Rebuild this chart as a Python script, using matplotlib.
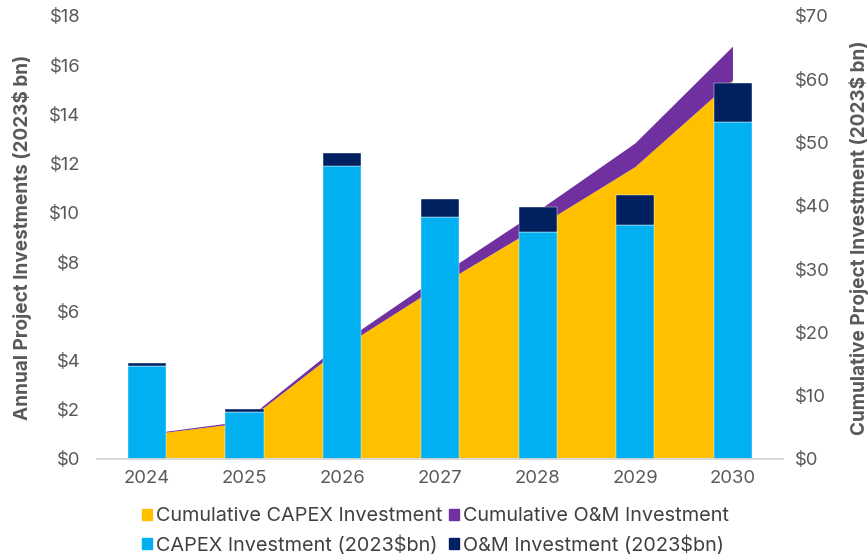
import matplotlib.pyplot as plt
from matplotlib.patches import Patch

plt.rcParams['font.family'] = ['Inter', 'DejaVu Sans']

# Data (2023$ bn)
years = ['2024', '2025', '2026', '2027', '2028', '2029', '2030']
capex = [3.79, 1.89, 11.92, 9.81, 9.24, 9.49, 13.67]
om = [0.11, 0.14, 0.49, 0.76, 0.99, 1.24, 1.60]
cum_capex = [3.79, 5.68, 17.6, 27.4, 36.6, 46.1, 59.8]
cum_om = [0.11, 0.25, 0.74, 1.50, 2.49, 3.73, 5.33]

c_capex = '#00B0F0'
c_om = '#002060'
c_cum_capex = '#FFC000'
c_cum_om = '#7030A0'
grey = '#595959'

fig = plt.figure(figsize=(8.68, 5.56), dpi=100)
ax = fig.add_axes([0.1118, 0.1745, 0.790, 0.797])
ax2 = ax.twinx()

x = list(range(len(years)))

# cumulative areas on the right axis
ax2.stackplot(x, cum_capex, cum_om, colors=[c_cum_capex, c_cum_om], linewidth=0)

# annual bars on the left axis, drawn over the areas
ax.set_zorder(ax2.get_zorder() + 1)
ax.patch.set_visible(False)
ax.bar(x, capex, width=0.39, color=c_capex, edgecolor='white', linewidth=0.3)
ax.bar(x, om, width=0.39, bottom=capex, color=c_om, edgecolor='white', linewidth=0.3)

ax.set_xlim(-0.51, 6.51)
ax.set_ylim(0, 18)
ax2.set_ylim(0, 70)
ax.set_yticks(range(0, 19, 2))
ax.set_yticklabels(['$%d' % v for v in range(0, 19, 2)])
ax2.set_yticks(range(0, 71, 10))
ax2.set_yticklabels(['$%d' % v for v in range(0, 71, 10)])
ax.set_xticks(x)
ax.set_xticklabels(years)

for a in (ax, ax2):
    for s in ['top', 'left', 'right']:
        a.spines[s].set_visible(False)
    a.spines['bottom'].set_color('#d9d9d9')
    a.spines['bottom'].set_linewidth(1.2)
    a.tick_params(length=0, labelsize=13.3, labelcolor=grey)
ax.tick_params(axis='x', pad=8)
ax.tick_params(axis='y', pad=12)
ax2.tick_params(axis='y', pad=9)

ax.set_ylabel('Annual Project Investments (2023$ bn)', fontsize=13.7,
              fontweight='bold', color=grey, labelpad=12)
ax2.set_ylabel('Cumulative Project Investment (2023$ bn)', fontsize=13.7,
               fontweight='bold', color=grey, labelpad=13)

handles = [Patch(color=c_cum_capex), Patch(color=c_capex),
           Patch(color=c_cum_om), Patch(color=c_om)]
labels = ['Cumulative CAPEX Investment', 'CAPEX Investment (2023$bn)',
          'Cumulative O&M Investment', 'O&M Investment (2023$bn)']
fig.legend(handles, labels, ncol=2, loc='lower center', bbox_to_anchor=(0.502, -0.03),
           frameon=False, fontsize=14.3, labelcolor='#404040', handlelength=0.5,
           handleheight=0.5, handletextpad=0.2, columnspacing=0.35, labelspacing=0.5)

plt.savefig('out.png', dpi=100)
